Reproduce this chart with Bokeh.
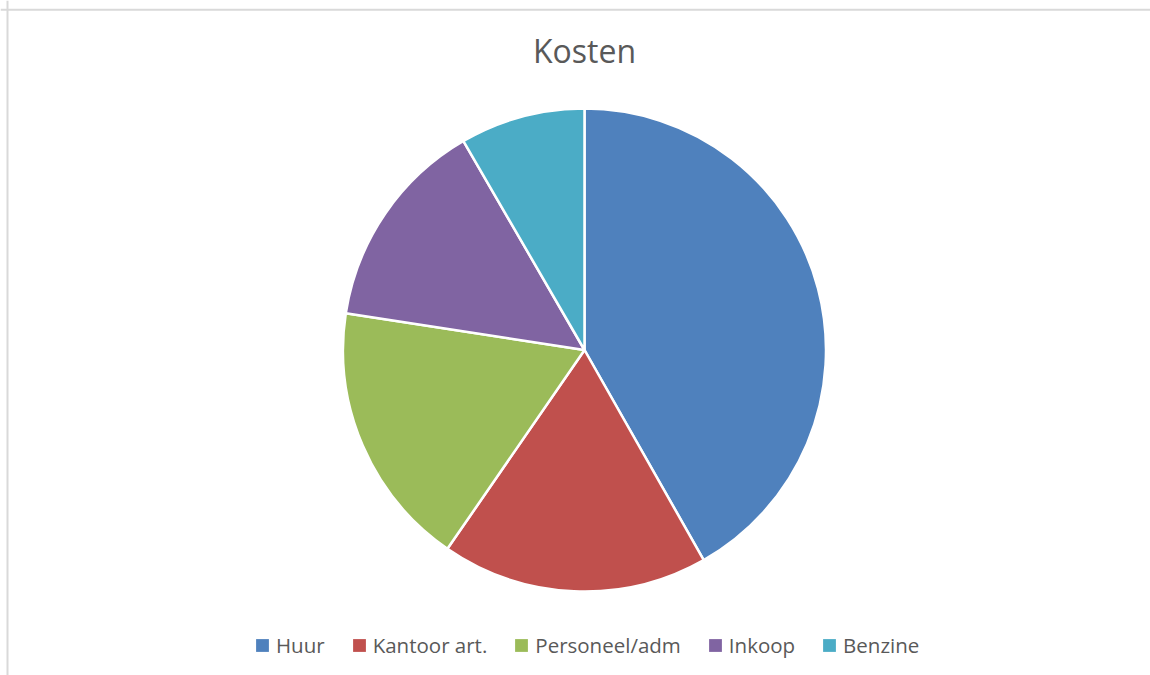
import math
from bokeh.plotting import figure
from bokeh.models import Range1d, Span, Label, Legend, LegendItem, ColumnDataSource
from bokeh.embed import file_html
from bokeh.resources import INLINE

# data
title_text = "Kosten"
categories = ["Huur", "Kantoor art.", "Personeel/adm", "Inkoop", "Benzine"]
values = [1500, 640, 640, 510, 300]
colors = ["#4F81BD", "#C0504D", "#9BBB59", "#8064A2", "#4BACC6"]

W, H = 1150, 675
p = figure(width=W, height=H, output_backend="svg", toolbar_location=None,
           x_range=Range1d(0, W), y_range=Range1d(0, H),
           min_border=0, min_border_left=0, min_border_right=0,
           min_border_top=0, min_border_bottom=0)
p.axis.visible = False
p.xgrid.visible = False
p.ygrid.visible = False
p.outline_line_color = None
p.background_fill_color = "white"
p.border_fill_color = "white"

# chart area border (left & top visible)
p.add_layout(Span(location=7, dimension="height", line_color="#D9D9D9", line_width=2))
p.add_layout(Span(location=H - 9.3, dimension="width", line_color="#D9D9D9", line_width=2))

total = sum(values)
starts, ends = [], []
cum = 0.0
for v in values:
    a0 = cum / total * 2 * math.pi
    cum += v
    a1 = cum / total * 2 * math.pi
    starts.append(math.pi / 2 - a1)
    ends.append(math.pi / 2 - a0)

cx, cy = 584, H - 349.5
src = ColumnDataSource(dict(x=[cx] * len(values), y=[cy] * len(values),
                            start=starts, end=ends, color=colors, cat=categories))
p.wedge(x="x", y="y", radius=241.5, radius_units="screen",
        start_angle="start", end_angle="end", direction="anticlock",
        fill_color="color", line_color="white", line_width=2.5, source=src)

# legend swatches (not drawn in the plot area: NaN coordinates)
nan = float("nan")
leg_src = ColumnDataSource(dict(l=[nan] * len(values), r=[nan] * len(values),
                                t=[nan] * len(values), b=[nan] * len(values),
                                color=colors))
lr = p.quad(left="l", right="r", top="t", bottom="b", fill_color="color",
            line_color=None, source=leg_src)

p.add_layout(Label(x=584, y=H - 50, text=title_text, text_align="center",
                   text_baseline="alphabetic", text_font="Open Sans",
                   text_font_size="32px", text_color="#595959"))

items = [LegendItem(label=c, renderers=[lr], index=i) for i, c in enumerate(categories)]
legend = Legend(items=items, orientation="horizontal", location=(254, 16.5),
                glyph_width=16, glyph_height=16, label_height=16,
                label_standoff=6, spacing=26, padding=0, margin=0,
                border_line_color=None, background_fill_alpha=0,
                label_text_font="Open Sans", label_text_font_size="20.5px",
                label_text_color="#595959")
p.add_layout(legend, "center")

open("out.html", "w").write(file_html(p, INLINE))
